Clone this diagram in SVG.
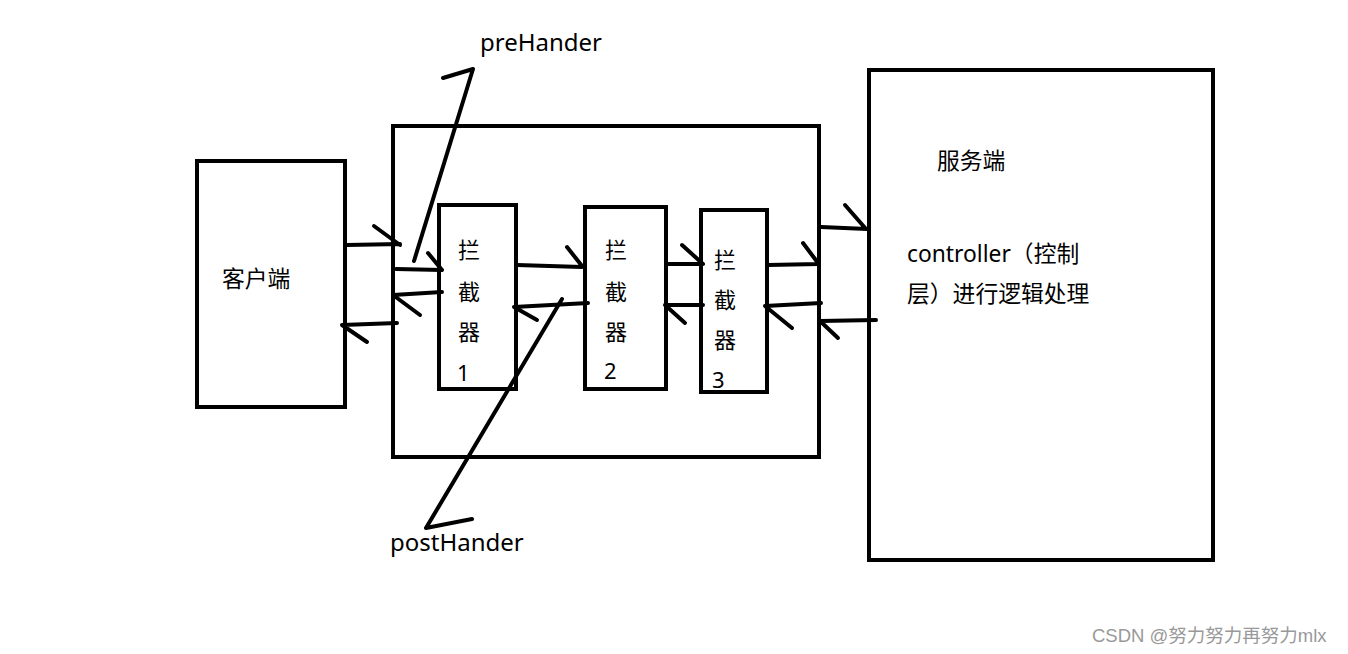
<svg xmlns="http://www.w3.org/2000/svg" width="1348" height="654" viewBox="0 0 1348 654">
<style>
.box{fill:none;stroke:#000;stroke-width:4}
.ln{fill:none;stroke:#000;stroke-width:4;stroke-linecap:round;stroke-linejoin:round}
.t{font-family:"Noto Sans","Noto Sans CJK SC",sans-serif;font-size:22px;fill:#000}
.m{font-size:22.8px}
.lb{font-size:24px}
.wm{font-family:"Liberation Sans","Noto Sans CJK SC",sans-serif;font-size:18.5px;fill:#999}
</style>
<rect width="1348" height="654" fill="#fff"/>
<g id="client">
<rect class="box" x="197" y="161" width="148" height="246"/>
<text class="t m" x="222" y="287">客户端</text>
</g>
<g id="container">
<rect class="box" x="393" y="126" width="426" height="331"/>
</g>
<g id="interceptor1">
<rect class="box" x="439" y="205" width="77" height="184"/>
<text class="t" x="458" y="258">拦</text>
<text class="t" x="458" y="300">截</text>
<text class="t" x="458" y="340">器</text>
<text class="t" x="457" y="381">1</text>
</g>
<g id="interceptor2">
<rect class="box" x="585" y="207" width="81" height="182"/>
<text class="t" x="605" y="258">拦</text>
<text class="t" x="605" y="300">截</text>
<text class="t" x="605" y="340">器</text>
<text class="t" x="604" y="379">2</text>
</g>
<g id="interceptor3">
<rect class="box" x="701" y="210" width="66" height="182"/>
<text class="t" x="714" y="268">拦</text>
<text class="t" x="714" y="308">截</text>
<text class="t" x="714" y="348">器</text>
<text class="t" x="712" y="388">3</text>
</g>
<g id="server">
<rect class="box" x="869" y="70" width="344" height="490"/>
<text class="t m" x="937" y="169">服务端</text>
<text class="t m" x="907" y="262">controller（控制</text>
<text class="t m" x="907" y="302">层）进行逻辑处理</text>
</g>
<g id="labels">
<text class="t lb" x="480" y="51">preHander</text>
<text class="t lb" x="390" y="551">postHander</text>
</g>
<g id="connectors">
<path class="ln" d="M347 245 L400 244 M374 226 L400 245"/>
<path class="ln" d="M396 269 L442 270 M428 253 L442 270"/>
<path class="ln" d="M442 292 L393 295 L420 315"/>
<path class="ln" d="M397 323 L342 325 L367 342"/>
<path class="ln" d="M517 265 L582 267 M567 247 L582 266"/>
<path class="ln" d="M588 303 L514 307 L537 320"/>
<path class="ln" d="M667 264 L703 264 M682 245 L703 264"/>
<path class="ln" d="M703 305 L665 305 L685 323"/>
<path class="ln" d="M768 265 L819 264 M803 243 L818 263"/>
<path class="ln" d="M821 227 L867 229 M845 205 L866 229"/>
<path class="ln" d="M821 303 L765 306 L792 328"/>
<path class="ln" d="M876 320 L820 321 L838 338"/>
<path class="ln" d="M414 261 L473 69 L443 78"/>
<path class="ln" d="M562 299 L426 528 L472 519"/>
</g>
<text class="wm" x="1092" y="642">CSDN @努力努力再努力mlx</text>
</svg>
